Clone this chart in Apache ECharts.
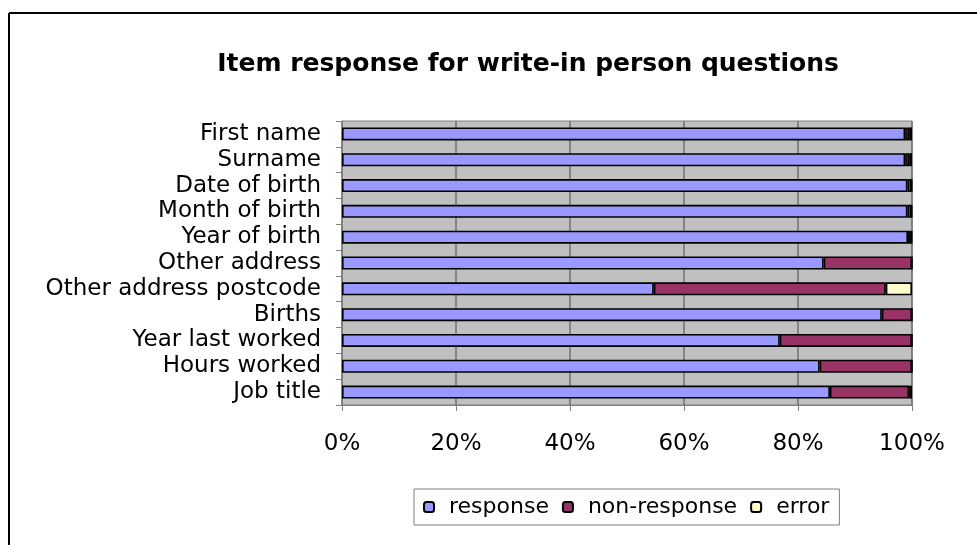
<!DOCTYPE html>
<html>
<head>
<meta charset="utf-8">
<script src="https://cdn.jsdelivr.net/npm/echarts@6/dist/echarts.min.js"></script>
<style>html,body{margin:0;padding:0;background:#fff}#c{width:977px;height:545px}</style>
</head>
<body>
<div id="c"></div>
<script>
const categories = ["First name","Surname","Date of birth","Month of birth","Year of birth","Other address","Other address postcode","Births","Year last worked","Hours worked","Job title"];
const responseVals = [98.8, 98.8, 99.2, 99.2, 99.3, 84.5, 54.7, 94.7, 76.8, 83.8, 85.6];
const nonResponseVals = [0.7, 0.7, 0.7, 0.7, 0.6, 15.5, 40.7, 5.3, 23.2, 16.2, 13.9];
const errorVals = [0.5, 0.5, 0.1, 0.1, 0.1, 0, 4.6, 0, 0, 0, 0.5];
const xTicks = [0, 20, 40, 60, 80, 100];

const font = "DejaVu Sans, Verdana, sans-serif";
const chart = echarts.init(document.getElementById('c'));
function ser(name, data, color) {
  return {
    name: name, type: 'bar', stack: 'all', data: data, barWidth: 13,
    itemStyle: { color: color, borderColor: '#000', borderWidth: 1.6 },
    emphasis: { disabled: true }
  };
}
chart.setOption({
  animation: false,
  backgroundColor: '#fff',
  title: {
    text: 'Item response for write-in person questions',
    left: 523, top: 47, textAlign: 'center',
    textStyle: { fontFamily: font, fontSize: 25, fontWeight: 'bold', color: '#000' }
  },
  graphic: [
    { type: 'line', shape: { x1: 9, y1: 13, x2: 977, y2: 13 }, style: { stroke: '#000', lineWidth: 2 } },
    { type: 'line', shape: { x1: 9, y1: 13, x2: 9, y2: 545 }, style: { stroke: '#000', lineWidth: 2 } }
  ],
  grid: {
    left: 342, right: 65, top: 121, height: 284,
    show: true, backgroundColor: '#C0C0C0', borderColor: '#808080', borderWidth: 1
  },
  legend: {
    left: 414, top: 489,
    data: ['response', 'non-response', 'error'],
    borderColor: '#808080', borderWidth: 1,
    padding: [7, 10, 7, 9],
    itemWidth: 10, itemHeight: 10, itemGap: 13,
    textStyle: { fontFamily: font, fontSize: 22, color: '#000', padding: [0, 0, 0, 10] },
    selectedMode: false
  },
  xAxis: {
    type: 'value', min: xTicks[0], max: xTicks[xTicks.length - 1], interval: 20,
    axisLine: { show: true, lineStyle: { color: '#808080', width: 1 } },
    axisTick: { show: true, length: 6, lineStyle: { color: '#808080' } },
    splitLine: { show: true, lineStyle: { color: '#707070', width: 1.5 } },
    axisLabel: { margin: 28, formatter: '{value}%', fontFamily: font, fontSize: 23, color: '#000' }
  },
  yAxis: {
    type: 'category', data: categories, inverse: true,
    axisLine: { show: true, lineStyle: { color: '#808080', width: 1 } },
    axisTick: { show: true, length: 6, lineStyle: { color: '#808080' } },
    axisLabel: { interval: 0, margin: 21, fontFamily: font, fontSize: 23, color: '#000' }
  },
  series: [
    ser('response', responseVals, '#9999FF'),
    ser('non-response', nonResponseVals, '#993366'),
    ser('error', errorVals, '#FFFFCC')
  ]
});
</script>
</body>
</html>
